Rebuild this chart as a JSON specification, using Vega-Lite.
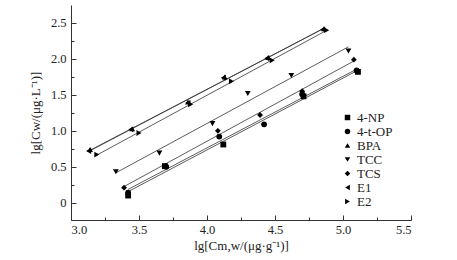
{
  "$schema": "https://vega.github.io/schema/vega-lite/v6.json",
  "autosize": {"type": "none"},
  "padding": {"left": 71, "top": 5, "right": 46, "bottom": 40},
  "width": 340,
  "height": 215,
  "background": "white",
  "config": {
    "view": {"stroke": null},
    "font": "Liberation Serif",
    "axis": {
      "domainColor": "#333333",
      "tickColor": "#333333",
      "domainWidth": 1,
      "tickWidth": 1,
      "grid": false,
      "labelFont": "Liberation Serif",
      "labelFontSize": 12.5,
      "labelColor": "#222222",
      "titleFont": "Liberation Serif",
      "titleFontSize": 13,
      "titleFontWeight": "normal",
      "titleColor": "#222222"
    }
  },
  "data": {
    "values": [
      {"s": "4-NP", "x": 3.42, "y": 0.10},
      {"s": "4-NP", "x": 3.69, "y": 0.51},
      {"s": "4-NP", "x": 4.12, "y": 0.81},
      {"s": "4-NP", "x": 4.71, "y": 1.48},
      {"s": "4-NP", "x": 5.11, "y": 1.82},
      {"s": "4-t-OP", "x": 3.42, "y": 0.14},
      {"s": "4-t-OP", "x": 3.70, "y": 0.50},
      {"s": "4-t-OP", "x": 4.09, "y": 0.92},
      {"s": "4-t-OP", "x": 4.42, "y": 1.09},
      {"s": "4-t-OP", "x": 4.70, "y": 1.51},
      {"s": "4-t-OP", "x": 5.10, "y": 1.84},
      {"s": "BPA", "x": 3.14, "y": 0.74},
      {"s": "BPA", "x": 3.45, "y": 1.03},
      {"s": "BPA", "x": 3.86, "y": 1.40},
      {"s": "BPA", "x": 4.13, "y": 1.75},
      {"s": "BPA", "x": 4.45, "y": 2.02},
      {"s": "BPA", "x": 4.86, "y": 2.42},
      {"s": "TCC", "x": 3.33, "y": 0.43},
      {"s": "TCC", "x": 3.65, "y": 0.69},
      {"s": "TCC", "x": 4.04, "y": 1.10},
      {"s": "TCC", "x": 4.30, "y": 1.52},
      {"s": "TCC", "x": 4.62, "y": 1.77},
      {"s": "TCC", "x": 5.04, "y": 2.11},
      {"s": "TCS", "x": 3.39, "y": 0.21},
      {"s": "TCS", "x": 4.08, "y": 1.00},
      {"s": "TCS", "x": 4.39, "y": 1.22},
      {"s": "TCS", "x": 4.70, "y": 1.55},
      {"s": "TCS", "x": 5.08, "y": 1.99},
      {"s": "E1", "x": 3.13, "y": 0.72},
      {"s": "E1", "x": 3.44, "y": 1.02},
      {"s": "E1", "x": 3.86, "y": 1.39},
      {"s": "E1", "x": 4.12, "y": 1.74},
      {"s": "E1", "x": 4.44, "y": 2.01},
      {"s": "E1", "x": 4.85, "y": 2.41},
      {"s": "E2", "x": 3.19, "y": 0.67},
      {"s": "E2", "x": 3.50, "y": 0.97},
      {"s": "E2", "x": 3.88, "y": 1.37},
      {"s": "E2", "x": 4.18, "y": 1.69},
      {"s": "E2", "x": 4.48, "y": 1.98},
      {"s": "E2", "x": 4.88, "y": 2.40}
    ]
  },
  "encoding": {
    "x": {
      "field": "x", "type": "quantitative",
      "scale": {"domain": [3.0, 5.5], "nice": false, "zero": false},
      "axis": {
        "title": "lg[Cm,w/(μg·g⁻¹)]",
        "values": [3.0, 3.25, 3.5, 3.75, 4.0, 4.25, 4.5, 4.75, 5.0, 5.25, 5.5],
        "labelExpr": "abs(datum.value*2 - round(datum.value*2)) > 0.01 ? '' : format(datum.value, '.1f')",
        "tickSize": {"condition": {"test": "abs(datum.value*2 - round(datum.value*2)) > 0.01", "value": -3}, "value": -5},
        "labelPadding": 8,
        "titlePadding": 4
      }
    },
    "y": {
      "field": "y", "type": "quantitative",
      "scale": {"domain": [-0.24, 2.75], "nice": false, "zero": false},
      "axis": {
        "title": "lg[Cw/(μg·L⁻¹)]",
        "values": [0, 0.25, 0.5, 0.75, 1.0, 1.25, 1.5, 1.75, 2.0, 2.25, 2.5],
        "labelExpr": "abs(datum.value*2 - round(datum.value*2)) > 0.01 ? '' : (datum.value == 0 ? '0' : format(datum.value, '.1f'))",
        "tickSize": {"condition": {"test": "abs(datum.value*2 - round(datum.value*2)) > 0.01", "value": -3}, "value": -5},
        "labelPadding": 10,
        "titlePadding": 8
      }
    }
  },
  "layer": [
    {
      "transform": [{"regression": "y", "on": "x", "groupby": ["s"]}],
      "mark": {"type": "line", "color": "#333333", "strokeWidth": 0.8},
      "encoding": {"detail": {"field": "s"}}
    },
    {
      "mark": {"type": "point", "filled": true, "color": "black", "opacity": 1, "size": 34},
      "encoding": {
        "shape": {
          "field": "s", "type": "nominal",
          "scale": {
            "domain": ["4-NP", "4-t-OP", "BPA", "TCC", "TCS", "E1", "E2"],
            "range": ["square", "circle", "triangle-up", "triangle-down", "diamond", "triangle-left", "triangle-right"]
          },
          "legend": {
            "title": null,
            "orient": "none",
            "legendX": 270,
            "legendY": 106,
            "labelFont": "Liberation Serif",
            "labelFontSize": 13,
            "labelColor": "#222222",
            "symbolSize": 30,
            "symbolFillColor": "black",
            "symbolStrokeColor": "black",
            "rowPadding": 0,
            "labelOffset": 3
          }
        }
      }
    }
  ]
}
